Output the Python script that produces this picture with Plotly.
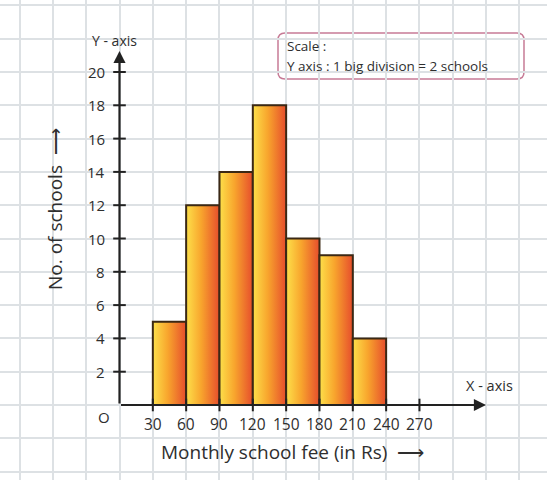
import plotly.graph_objects as go

# ---- data ----
bin_edges = [30, 60, 90, 120, 150, 180, 210, 240]
schools = [5, 12, 14, 18, 10, 9, 4]
x_tick_values = [30, 60, 90, 120, 150, 180, 210, 240, 270]
x_tick_labels = ["30", "60", "90", "120", "150", "180", "210", "240", "270"]
y_tick_values = [2, 4, 6, 8, 10, 12, 14, 16, 18, 20]
y_tick_labels = ["2", "4", "6", "8", "10", "12", "14", "16", "18", "20"]

W, H = 547, 480
X0PX, Y0PX = 119.5, 405.0       # pixel position of origin
XS, YS = 33.33 / 30.0, 16.65     # pixels per unit
x_range = [-X0PX / XS, (W - X0PX) / XS]
y_range = [-(H - Y0PX) / YS, Y0PX / YS]

AX = "#222222"
TXT = "#2e2e2e"
FONT = "Open Sans"

fig = go.Figure()

# bars with horizontal gradient
for i, v in enumerate(schools):
    a, b = bin_edges[i], bin_edges[i + 1]
    fig.add_trace(go.Scatter(
        x=[a, a, b, b, a], y=[0, v, v, 0, 0],
        mode="lines", fill="toself",
        fillgradient=dict(type="horizontal",
                          colorscale=[[0, "#fde04a"], [0.45, "#f8a52d"], [1, "#e64d2c"]]),
        line=dict(color="#3b2814", width=2),
        hoverinfo="skip", showlegend=False))

# tick marks
fig.add_trace(go.Scatter(
    x=[0] * len(y_tick_values), y=y_tick_values, mode="markers",
    marker=dict(symbol="line-ew", size=9, line=dict(color=AX, width=2)),
    hoverinfo="skip", showlegend=False))
fig.add_trace(go.Scatter(
    x=x_tick_values, y=[0] * len(x_tick_values), mode="markers",
    marker=dict(symbol="line-ns", size=9, line=dict(color=AX, width=2)),
    hoverinfo="skip", showlegend=False))

annotations = []
# axes with arrows
annotations.append(dict(x=0, y=(Y0PX - 51) / YS, ax=0, ay=0, axref="x", ayref="y",
                        xref="x", yref="y", text="", showarrow=True, arrowhead=2,
                        arrowsize=1.1, arrowwidth=2.2, arrowcolor=AX))
annotations.append(dict(x=(486 - X0PX) / XS, y=0, ax=0, ay=0, axref="x", ayref="y",
                        xref="x", yref="y", text="", showarrow=True, arrowhead=2,
                        arrowsize=1.1, arrowwidth=2.2, arrowcolor=AX))
# tick labels
for v, t in zip(x_tick_values, x_tick_labels):
    annotations.append(dict(x=v, y=0, xref="x", yref="y", text=t, showarrow=False,
                            xanchor="center", yanchor="middle", yshift=-19,
                            borderpad=0,
                            font=dict(family=FONT, size=15.5, color=TXT)))
for v, t in zip(y_tick_values, y_tick_labels):
    annotations.append(dict(x=0, y=v, xref="x", yref="y", text=t, showarrow=False,
                            xanchor="right", yanchor="middle", xshift=-14,
                            borderpad=0,
                            font=dict(family=FONT, size=15, color=TXT)))
annotations.append(dict(x=0, y=0, xref="x", yref="y", text="O", showarrow=False,
                        xanchor="center", yanchor="middle",
                        xshift=-16, yshift=-12, font=dict(family=FONT, size=15, color=TXT)))


def px(xp, yp):
    return xp / W, 1 - yp / H


for txt, (xp, yp), size, ang in [
    ("Y - axis", (114, 40), 14, 0),
    ("X - axis", (489, 385), 14.5, 0),
    ("Monthly school fee (in Rs)  ⟶", (292, 452), 19, 0),
    ("No. of schools  ⟶", (55, 209), 19, -90),
]:
    xx, yy = px(xp, yp)
    annotations.append(dict(x=xx, y=yy, xref="paper", yref="paper", text=txt,
                            showarrow=False, textangle=ang,
                            xanchor="center", yanchor="middle",
                            font=dict(family=FONT, size=size, color=TXT)))

# scale box text
for txt, yp in [("Scale :", 46), ("Y axis : 1 big division = 2 schools", 66)]:
    xx, yy = px(285, yp)
    annotations.append(dict(x=xx, y=yy, xref="paper", yref="paper", text=txt,
                            showarrow=False, xanchor="left", yanchor="middle",
                            font=dict(family=FONT, size=13.5, color=TXT)))

# rounded box path (paper coords)
bx0, by0, bx1, by1, r = 278, 33, 524, 79, 7


def P(xp, yp):
    a, b = px(xp, yp)
    return f"{a:.5f},{b:.5f}"


path = (f"M {P(bx0 + r, by0)} L {P(bx1 - r, by0)} Q {P(bx1, by0)} {P(bx1, by0 + r)} "
        f"L {P(bx1, by1 - r)} Q {P(bx1, by1)} {P(bx1 - r, by1)} "
        f"L {P(bx0 + r, by1)} Q {P(bx0, by1)} {P(bx0, by1 - r)} "
        f"L {P(bx0, by0 + r)} Q {P(bx0, by0)} {P(bx0 + r, by0)} Z")

fig.update_layout(
    width=W, height=H, margin=dict(l=0, r=0, t=0, b=0),
    paper_bgcolor="white", plot_bgcolor="white",
    xaxis=dict(range=x_range, dtick=30, tick0=0, showgrid=True, gridcolor="#dde1e4",
               gridwidth=1.5, zeroline=False, showticklabels=False, showline=False,
               fixedrange=True),
    yaxis=dict(range=y_range, dtick=2, tick0=0, showgrid=True, gridcolor="#dde1e4",
               gridwidth=1.5, zeroline=False, showticklabels=False, showline=False,
               fixedrange=True),
    annotations=annotations,
    shapes=[dict(type="path", path=path, xref="paper", yref="paper",
                 line=dict(color="#c77b96", width=1.5), fillcolor="white", layer="below")],
    showlegend=False,
)

fig.write_html("out.html", config={"displayModeBar": False},
               post_script="document.body.style.margin='0';")
